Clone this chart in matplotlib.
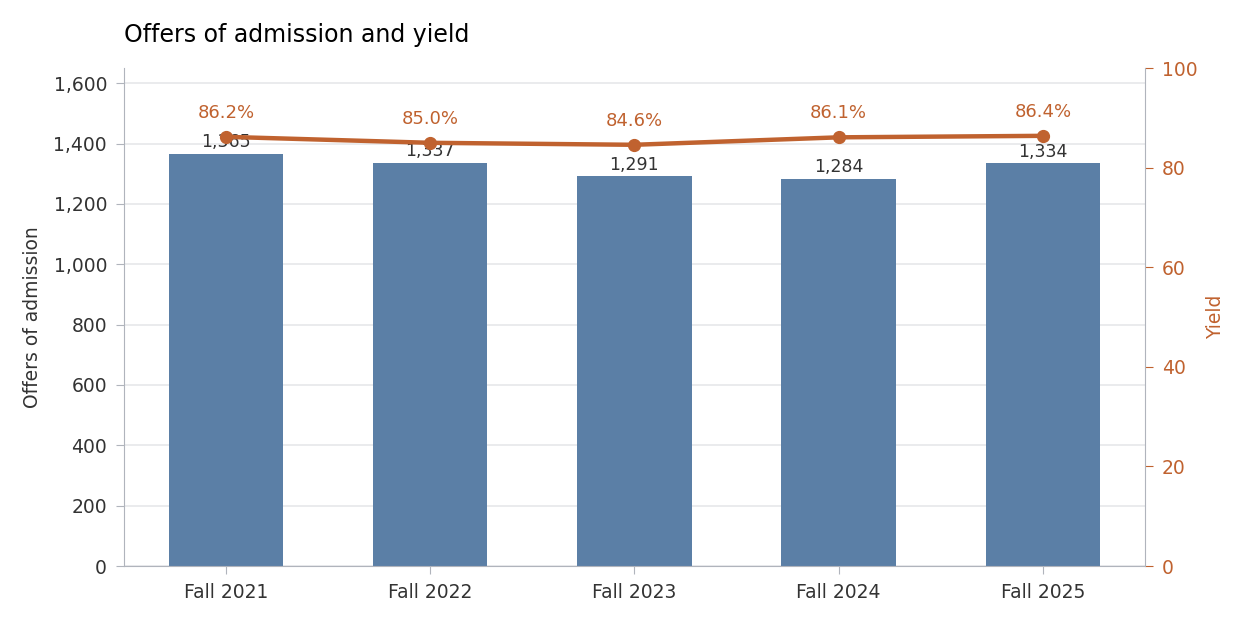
import matplotlib.pyplot as plt

terms = ['Fall 2021', 'Fall 2022', 'Fall 2023', 'Fall 2024', 'Fall 2025']
offers = [1365, 1337, 1291, 1284, 1334]
yield_pct = [86.2, 85.0, 84.6, 86.1, 86.4]

BAR = '#5b7fa6'
LINE = '#c0622f'
TXT = '#333333'
SPINE = '#b0b4bc'

fig = plt.figure(figsize=(12.5, 6.25), dpi=100)
ax = fig.add_axes([0.099, 0.0944, 0.817, 0.7966])
x = list(range(len(terms)))

ax.bar(x, offers, width=0.56, color=BAR, zorder=2)
for xi, v in zip(x, offers):
    ax.annotate(f'{v:,}', (xi, v), xytext=(0, 2), textcoords='offset points',
                ha='center', va='bottom', fontsize=12.5, color=TXT)

ax.set_xlim(-0.5, 4.5)
ax.set_ylim(0, 1650)
ax.set_yticks(range(0, 1601, 200))
ax.set_yticklabels([f'{t:,}' for t in range(0, 1601, 200)])
ax.set_xticks(x)
ax.set_xticklabels(terms)
ax.set_ylabel('Offers of admission', fontsize=13.5, color=TXT, labelpad=8)
ax.grid(axis='y', color='#e6e7ea', linewidth=1.2, zorder=0)
ax.set_axisbelow(True)
ax.tick_params(axis='both', labelsize=13.5, colors=TXT, length=6, color=SPINE, pad=6)
for s in ['top', 'right']:
    ax.spines[s].set_visible(False)
for s in ['left', 'bottom']:
    ax.spines[s].set_color(SPINE)

ax2 = ax.twinx()
ax2.plot(x, yield_pct, color=LINE, linewidth=3.2, marker='o', markersize=8.5, zorder=3)
for xi, v in zip(x, yield_pct):
    ax2.annotate(f'{v:.1f}%', (xi, v), xytext=(0, 11), textcoords='offset points',
                 ha='center', va='bottom', fontsize=13, color=LINE)
ax2.set_ylim(0, 100)
ax2.set_yticks(range(0, 101, 20))
ax2.set_ylabel('Yield', fontsize=13.5, color=LINE, labelpad=6)
ax2.tick_params(axis='y', labelsize=13.5, colors=LINE, length=6, pad=6)
for s in ['top', 'left', 'bottom']:
    ax2.spines[s].set_visible(False)
ax2.spines['right'].set_color(SPINE)

ax.set_title('Offers of admission and yield', loc='left', fontsize=17, pad=19)

fig.savefig('out.png')
